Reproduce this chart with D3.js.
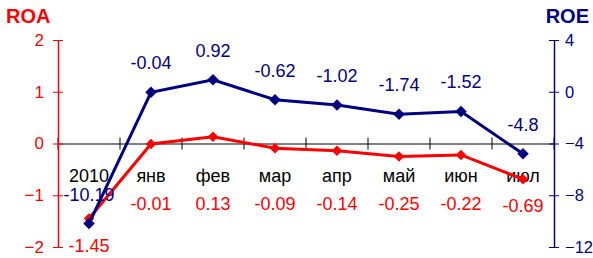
<!DOCTYPE html>
<html lang="ru">
  <head>
    <meta charset="UTF-8" />
    <title>ROA / ROE</title>
    <script src="https://d3js.org/d3.v7.min.js"></script>
    <style>
      body { margin: 0; background: #fff; }
      svg text { font-family: "Liberation Sans", Arial, sans-serif; }
      .line { fill: none; stroke-width: 3px; }
    </style>
  </head>
  <body>
    <svg id="chart" width="593" height="258"></svg>
    <script>
      const categories = ["2010", "янв", "фев", "мар", "апр", "май", "июн", "июл"];
      const roa = [-1.45, -0.01, 0.13, -0.09, -0.14, -0.25, -0.22, -0.69];
      const roe = [-10.19, -0.04, 0.92, -0.62, -1.02, -1.74, -1.52, -4.8];
      const roaTicks = [2, 1, 0, -1, -2];
      const roeTicks = [4, 0, -4, -8, -12];

      const red = "#ff0000", navy = "#000080";
      const svg = d3.select("#chart"),
        plotLeft = 58, plotRight = 554, plotTop = 40, plotBottom = 247;

      const x = d3.scaleBand().domain(categories).range([plotLeft, plotRight]);
      const yL = d3.scaleLinear().domain([-2, 2]).range([plotBottom, plotTop]);
      const yR = d3.scaleLinear().domain([-12, 4]).range([plotBottom, plotTop]);
      const cx = (d) => x(d) + x.bandwidth() / 2;

      // category axis at zero
      const xAxis = svg.append("g")
        .attr("transform", `translate(0,${yL(0)})`)
        .call(d3.axisBottom(x).tickSizeInner(0).tickSizeOuter(0).tickFormat(""));
      xAxis.select(".domain").attr("stroke", "#000").attr("stroke-width", 1.2);
      xAxis.selectAll(".cat-tick")
        .data(d3.range(categories.length + 1))
        .enter()
        .append("line")
        .attr("x1", (i) => plotLeft + i * x.step())
        .attr("x2", (i) => plotLeft + i * x.step())
        .attr("y1", -6).attr("y2", 6)
        .attr("stroke", "#000");

      svg.selectAll(".cat-label")
        .data(categories)
        .enter()
        .append("text")
        .attr("x", cx)
        .attr("y", yL(0) + 38)
        .attr("text-anchor", "middle")
        .style("font-size", "18px")
        .attr("fill", "#000")
        .text((d) => d);

      // left axis
      const leftAxis = svg.append("g")
        .attr("transform", `translate(${plotLeft},0)`)
        .call(d3.axisLeft(yL).tickValues(roaTicks).tickFormat(d3.format("d"))
          .tickSize(5).tickSizeOuter(0).tickPadding(9));
      leftAxis.select(".domain").attr("stroke", red).attr("stroke-width", 1.5);
      leftAxis.selectAll(".tick line").attr("stroke", red).attr("x2", 5).attr("x1", -5);
      leftAxis.selectAll(".tick text").attr("fill", red).style("font-size", "17px")
        .style("font-family", "'Liberation Sans', Arial, sans-serif");

      // right axis
      const rightAxis = svg.append("g")
        .attr("transform", `translate(${plotRight},0)`)
        .call(d3.axisRight(yR).tickValues(roeTicks).tickFormat(d3.format("d"))
          .tickSize(5).tickSizeOuter(0).tickPadding(6));
      rightAxis.select(".domain").attr("stroke", navy).attr("stroke-width", 1.5);
      rightAxis.selectAll(".tick line").attr("stroke", navy).attr("x1", -5).attr("x2", 5);
      rightAxis.selectAll(".tick text").attr("fill", navy).style("font-size", "16.5px")
        .style("font-family", "'Liberation Sans', Arial, sans-serif");

      svg.append("text").attr("x", 6).attr("y", 23)
        .attr("fill", red).style("font-size", "20px").style("font-weight", "bold")
        .text("ROA");
      svg.append("text").attr("x", 589).attr("y", 23).attr("text-anchor", "end")
        .attr("fill", navy).style("font-size", "20px").style("font-weight", "bold")
        .text("ROE");

      const square = d3.symbol().type(d3.symbolSquare);

      // ROA series
      const roaData = categories.map((c, i) => ({ c, v: roa[i] }));
      svg.append("path").datum(roaData).attr("class", "line").attr("stroke", red)
        .attr("d", d3.line().x((d) => cx(d.c)).y((d) => yL(d.v)));
      svg.selectAll(".roa-pt").data(roaData).enter().append("path")
        .attr("transform", (d) => `translate(${cx(d.c)},${yL(d.v)}) rotate(45)`)
        .attr("d", square.size(55)).attr("fill", red);
      svg.selectAll(".roa-lbl").data(roaData).enter().append("text")
        .attr("x", (d) => cx(d.c))
        .attr("y", (d) => Math.max(yL(d.v) + 33, 210))
        .attr("text-anchor", "middle").attr("fill", red).style("font-size", "18px")
        .text((d) => d.v);

      // ROE series
      const roeData = categories.map((c, i) => ({ c, v: roe[i] }));
      svg.append("path").datum(roeData).attr("class", "line").attr("stroke", navy)
        .attr("d", d3.line().x((d) => cx(d.c)).y((d) => yR(d.v)));
      svg.selectAll(".roe-pt").data(roeData).enter().append("path")
        .attr("transform", (d) => `translate(${cx(d.c)},${yR(d.v)}) rotate(45)`)
        .attr("d", square.size(66)).attr("fill", navy);
      svg.selectAll(".roe-lbl").data(roeData).enter().append("text")
        .attr("x", (d) => cx(d.c))
        .attr("y", (d) => yR(d.v) - 23)
        .attr("text-anchor", "middle").attr("fill", navy).style("font-size", "18px")
        .text((d) => d.v);
    </script>
  </body>
</html>
